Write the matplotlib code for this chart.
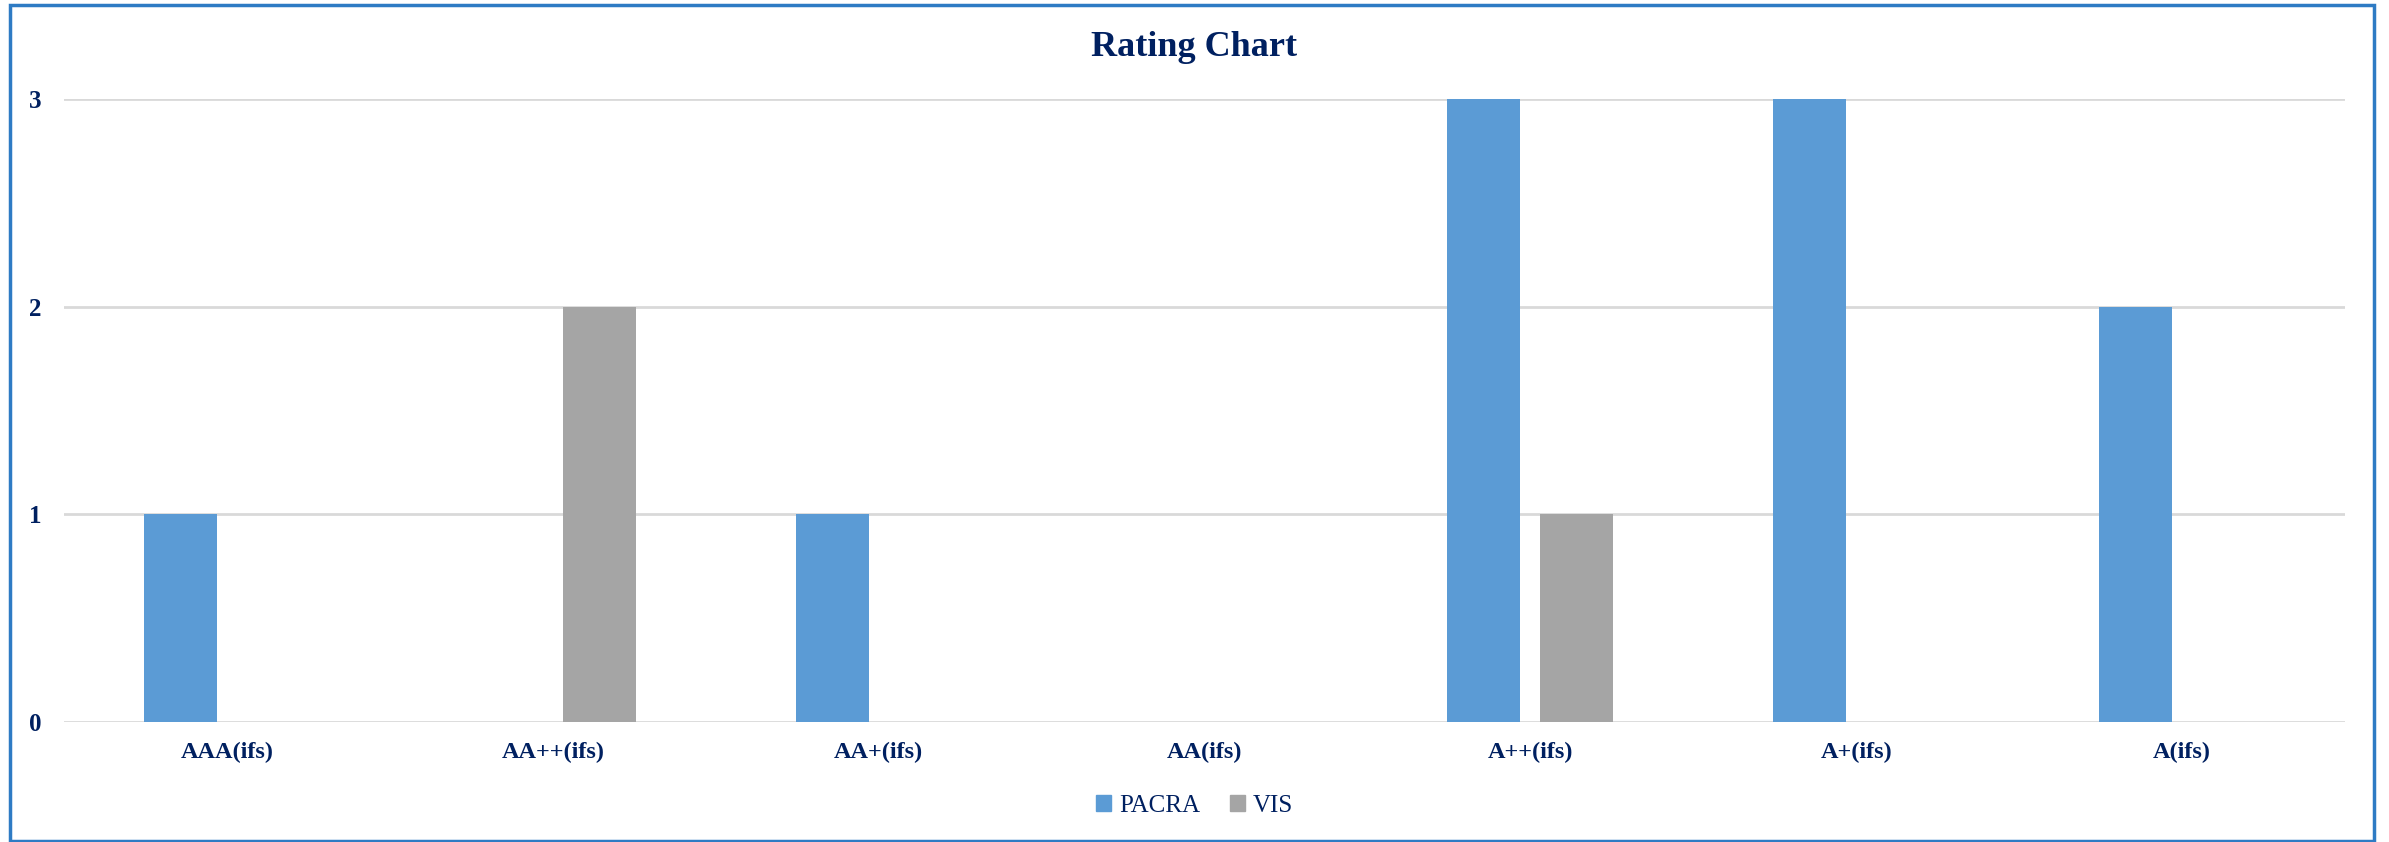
import matplotlib
matplotlib.use('Agg')
import matplotlib.pyplot as plt
import numpy as np
from matplotlib.patches import Rectangle, Patch

categories = ['AAA(ifs)', 'AA++(ifs)', 'AA+(ifs)', 'AA(ifs)', 'A++(ifs)', 'A+(ifs)', 'A(ifs)']
pacra = [1, 0, 1, 0, 3, 3, 2]
vis = [0, 2, 0, 0, 1, 0, 0]

navy = '#002060'
blue = '#5B9BD5'
grey = '#A5A5A5'
plt.rcParams['font.family'] = ['Liberation Serif', 'DejaVu Serif']

fig = plt.figure(figsize=(23.89, 8.42), dpi=100)
ax = fig.add_axes([0.0268, 0.1425, 0.9548, 0.7399])

x = np.arange(len(categories))
w = 0.224
ax.bar(x - 0.143, pacra, width=w, color=blue, zorder=3)
ax.bar(x + 0.143, vis, width=w, color=grey, zorder=3)

ax.set_xlim(-0.5, len(categories) - 0.5)
ax.set_ylim(0, 3)
ax.set_yticks([0, 1, 2, 3])
ax.grid(axis='y', color='#d9d9d9', linewidth=2, zorder=0)
for s in ax.spines.values():
    s.set_visible(False)
ax.tick_params(length=0)
ax.tick_params(axis='y', pad=16)
ax.tick_params(axis='x', pad=14)
ax.set_xticks(x)
ax.set_xticklabels(categories, fontsize=17.5, fontweight='bold', color=navy)
for lbl in ax.get_yticklabels():
    lbl.set_fontsize(18)
    lbl.set_fontweight('bold')
    lbl.set_color(navy)

fig.text(0.5, 1 - 48 / 842, 'Rating Chart', ha='center', va='center',
         fontsize=26, fontweight='bold', color=navy)

handles = [Patch(color=blue, label='PACRA'), Patch(color=grey, label='VIS')]
leg = fig.legend(handles=handles, loc='center', bbox_to_anchor=(0.5, 1 - 806 / 842),
                 ncol=2, frameon=False, fontsize=18, handlelength=0.6, handleheight=0.6,
                 handletextpad=0.3, columnspacing=1.2)
for t in leg.get_texts():
    t.set_color(navy)

# outer frame around the chart
fig.patches.append(Rectangle((10 / 2389, 1 / 842), 2364 / 2389, 836 / 842,
                             transform=fig.transFigure, fill=False,
                             edgecolor='#2E7BC4', linewidth=2.5))

fig.savefig('out.png', dpi=100)
